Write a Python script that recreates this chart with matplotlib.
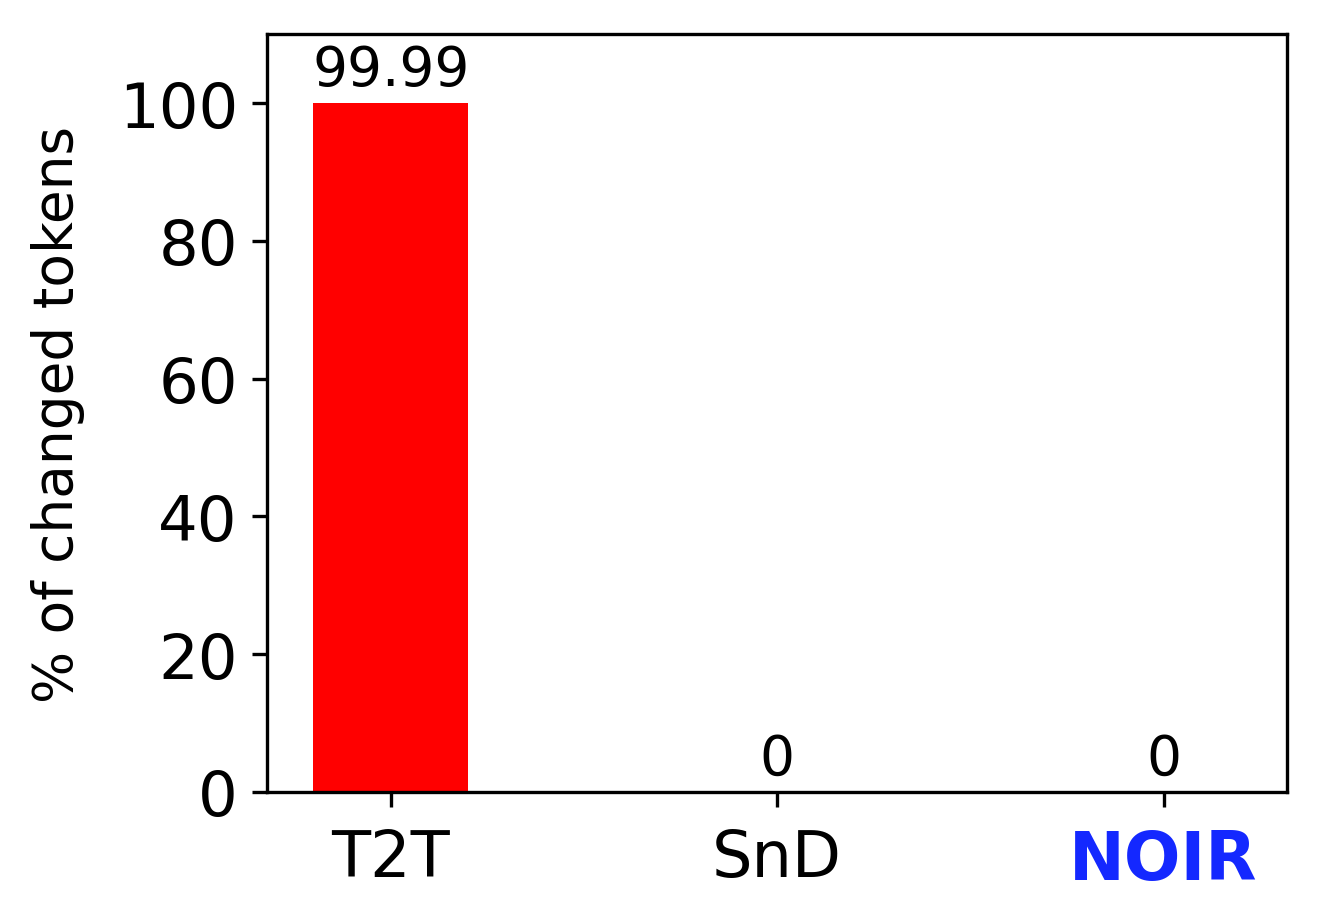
import numpy as np
import matplotlib
matplotlib.use("Agg")
import matplotlib.pyplot as plt

# data
methods = ["T2T", "SnD", "NOIR"]
changed_pct = [99.99, 0, 0]
bar_colors = ["red", "red", "red"]

fig, ax = plt.subplots(figsize=(4.46, 3.0833), dpi=300)
fig.subplots_adjust(left=0.1996, right=0.962, top=0.962, bottom=0.1427)

x = np.arange(len(methods))
bars = ax.bar(x, changed_pct, width=0.4, color=bar_colors)
ax.bar_label(bars, labels=[f"{v:g}" for v in changed_pct], fontsize=13.2, padding=1.5)

ax.set_ylim(0, 110)
ax.set_yticks([0, 20, 40, 60, 80, 100])
ax.set_xticks(x, methods)
ax.tick_params(axis="y", labelsize=15)
ax.tick_params(axis="x", labelsize=15.3, pad=5)
ax.set_ylabel("% of changed tokens", fontsize=13.2, labelpad=8)

# highlight our method
noir = ax.get_xticklabels()[-1]
noir.set_color("#1428ff")
noir.set_fontweight("bold")
noir.set_fontsize(16)

fig.savefig("out.png", dpi=300)
